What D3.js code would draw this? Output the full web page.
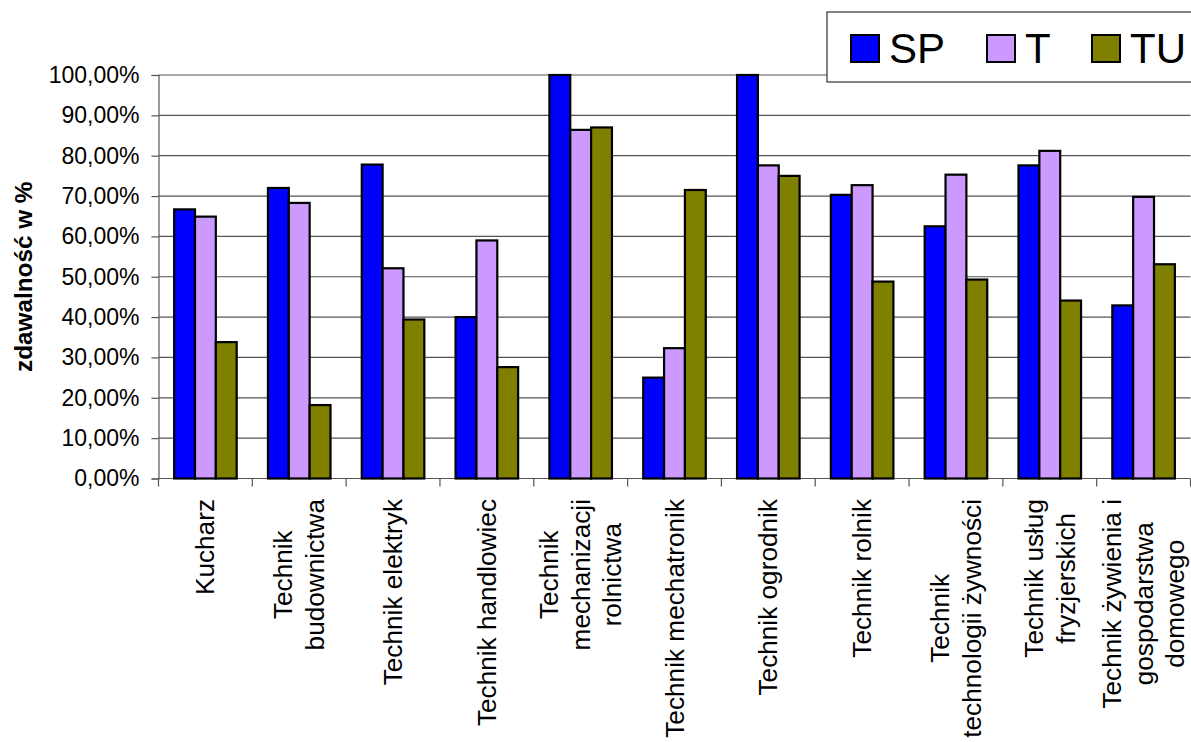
<!DOCTYPE html>
<html>
<head>
<meta charset="utf-8">
<script src="https://cdn.jsdelivr.net/npm/d3@7"></script>
<style>
  html, body { margin: 0; padding: 0; background: #fff; }
  svg { display: block; font-family: "Liberation Sans", Arial, sans-serif; }
</style>
</head>
<body>
<svg id="chart" width="1191" height="742"></svg>
<script>
const categories = [
  "Kucharz",
  "Technik\nbudownictwa",
  "Technik elektryk",
  "Technik handlowiec",
  "Technik\nmechanizacji\nrolnictwa",
  "Technik mechatronik",
  "Technik ogrodnik",
  "Technik rolnik",
  "Technik\ntechnologii żywności",
  "Technik usług\nfryzjerskich",
  "Technik żywienia i\ngospodarstwa\ndomowego"
];
const seriesNames = ["SP", "T", "TU"];
const SP = [0.667, 0.720, 0.778, 0.400, 1.000, 0.250, 1.000, 0.703, 0.625, 0.776, 0.429];
const T  = [0.649, 0.683, 0.521, 0.590, 0.864, 0.323, 0.776, 0.727, 0.753, 0.812, 0.698];
const TU = [0.338, 0.182, 0.394, 0.276, 0.870, 0.715, 0.750, 0.488, 0.493, 0.441, 0.531];
const yTicks = [0, 0.1, 0.2, 0.3, 0.4, 0.5, 0.6, 0.7, 0.8, 0.9, 1.0];
const colors = ["#0000FF", "#CC99FF", "#808000"];
const yTitle = "zdawalność w %";

const seriesValues = [SP, T, TU];
const svg = d3.select("#chart");

const pLeft = 158.5, pRight = 1190.5, pTop = 75, pBottom = 478.5;

const x = d3.scaleBand().domain(categories).range([pLeft, pRight])
  .paddingInner(1/3).paddingOuter(1/6);
const xs = d3.scaleBand().domain(seriesNames).range([0, x.bandwidth()]).padding(0);
const y = d3.scaleLinear().domain([0, 1]).range([pBottom, pTop]);

const fmt = v => d3.format(".2f")(v * 100).replace(".", ",") + "%";

// gridlines
svg.append("g").selectAll("line").data(yTicks.filter(d => d > 0)).join("line")
  .attr("x1", pLeft).attr("x2", pRight)
  .attr("y1", d => y(d)).attr("y2", d => y(d))
  .attr("stroke", "#555").attr("stroke-width", 1.2);

// y axis
const yAxis = d3.axisLeft(y).tickValues(yTicks).tickFormat(fmt).tickSize(7).tickPadding(12);
const ya = svg.append("g").attr("transform", `translate(${pLeft},0)`).call(yAxis);
ya.select(".domain").attr("stroke", "#555").attr("stroke-width", 1.2);
ya.selectAll(".tick line").attr("stroke", "#555").attr("stroke-width", 1.2);
ya.selectAll(".tick text").attr("font-size", 23).attr("fill", "#000")
  .attr("font-family", "'Liberation Sans', Arial, sans-serif");

// x axis (category boundaries)
const xa = svg.append("g").attr("transform", `translate(0,${pBottom})`);
xa.append("line").attr("x1", pLeft).attr("x2", pRight).attr("stroke", "#555").attr("stroke-width", 1.2);
const bounds = categories.map(c => x(c) - x.step() * x.paddingOuter()).concat([pRight]);
xa.selectAll("line.tk").data(bounds).join("line").attr("class", "tk")
  .attr("x1", d => d).attr("x2", d => d).attr("y1", 0).attr("y2", 8)
  .attr("stroke", "#555").attr("stroke-width", 1.2);

// bars
const groups = svg.append("g").selectAll("g").data(categories).join("g")
  .attr("transform", c => `translate(${x(c)},0)`);
groups.selectAll("rect").data((c, i) => seriesNames.map((s, k) => ({ s, k, v: seriesValues[k][i] })))
  .join("rect")
  .attr("x", d => xs(d.s)).attr("width", xs.bandwidth())
  .attr("y", d => y(d.v)).attr("height", d => y(0) - y(d.v))
  .attr("fill", d => colors[d.k]).attr("stroke", "#000").attr("stroke-width", 2.2);

// x labels
const lineH = 31.8;
categories.forEach(c => {
  const lines = c.split("\n");
  const cx = x(c) + x.bandwidth() / 2;
  const g = svg.append("g").attr("transform", `translate(${cx},499) rotate(-90)`);
  const texts = lines.map((ln, i) => g.append("text").text(ln)
    .attr("font-size", 26.2).attr("fill", "#000")
    .attr("text-anchor", "middle")
    .attr("y", 9 + (i - (lines.length - 1) / 2) * lineH));
  const maxW = d3.max(texts, t => t.node().getComputedTextLength());
  texts.forEach(t => t.attr("x", -maxW / 2));
});

// y title
svg.append("text").text(yTitle)
  .attr("transform", `translate(32,${(pTop + pBottom) / 2}) rotate(-90)`)
  .attr("text-anchor", "middle").attr("font-weight", "bold").attr("font-size", 24.3).attr("fill", "#000");

// legend
const lg = svg.append("g");
lg.append("rect").attr("x", 827).attr("y", 12).attr("width", 400).attr("height", 70)
  .attr("fill", "#fff").attr("stroke", "#333").attr("stroke-width", 1.2);
const legendX = [851, 987, 1092];
seriesNames.forEach((s, k) => {
  lg.append("rect").attr("x", legendX[k]).attr("y", 35).attr("width", 28).attr("height", 27)
    .attr("fill", colors[k]).attr("stroke", "#000").attr("stroke-width", 2);
  lg.append("text").text(s).attr("x", legendX[k] + 38).attr("y", 63)
    .attr("font-size", 42).attr("fill", "#000");
});
</script>
</body>
</html>
